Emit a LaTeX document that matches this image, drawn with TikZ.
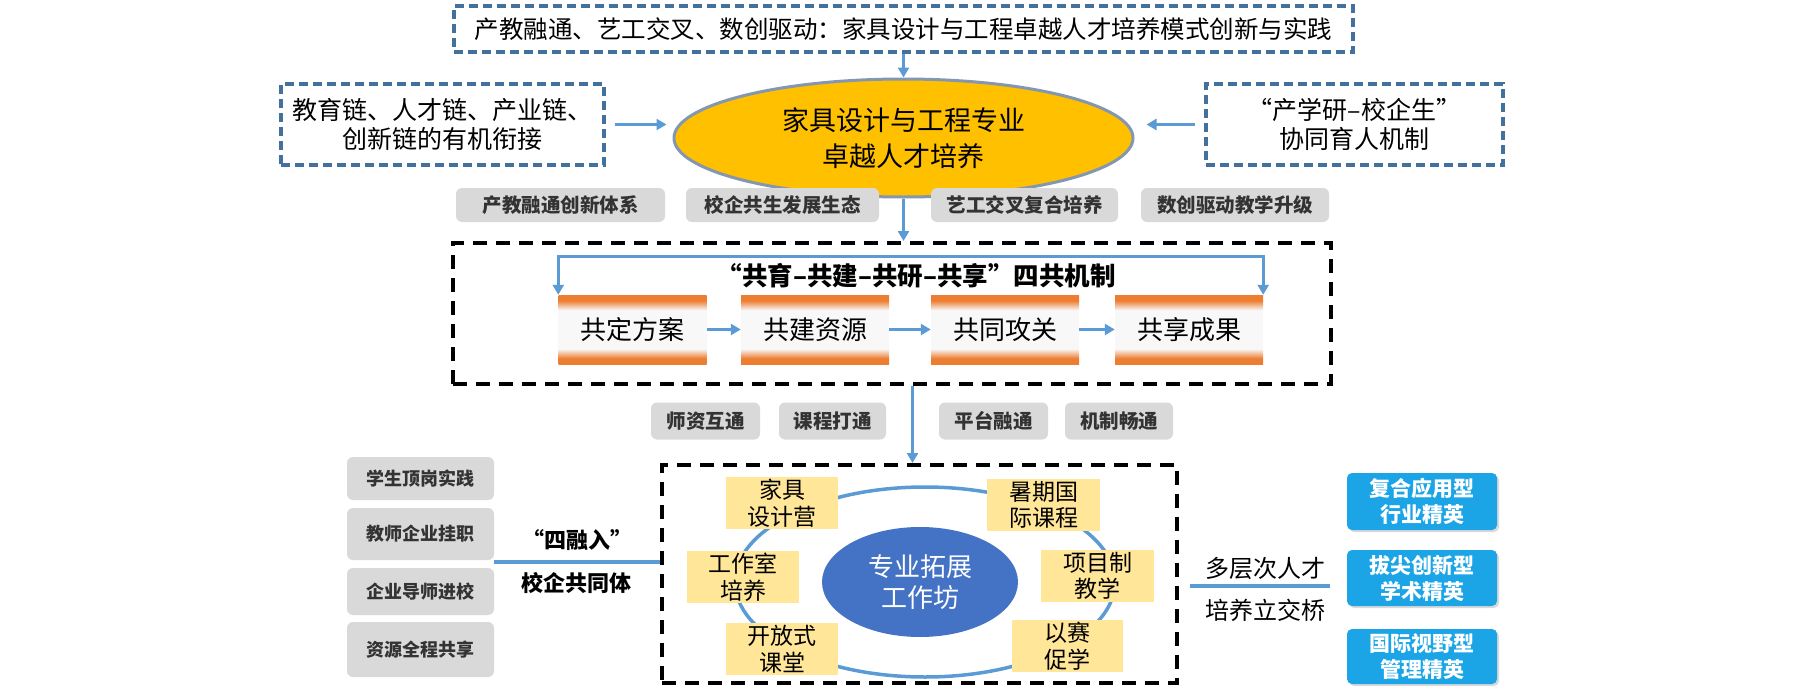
\documentclass[tikz,border=0pt]{standalone}
\usepackage{fontspec}
\setmainfont{Noto Sans CJK SC}
\usetikzlibrary{arrows.meta,shapes.geometric,shadows}
\definecolor{dashblue}{RGB}{65,113,156}
\definecolor{arrblue}{RGB}{91,155,213}
\definecolor{gold}{RGB}{255,192,0}
\definecolor{ellborder}{RGB}{132,151,176}
\definecolor{boxgray}{RGB}{217,217,217}
\definecolor{txtgray}{RGB}{51,51,51}
\definecolor{orbar}{RGB}{237,125,49}
\definecolor{midwhite}{RGB}{248,248,248}
\definecolor{ylw}{RGB}{255,230,153}
\definecolor{ellblue}{RGB}{68,114,196}
\definecolor{cyanbox}{RGB}{28,165,230}
\pgfdeclareverticalshading{orangebar}{100bp}{color(0bp)=(orbar); color(29bp)=(orbar); color(36bp)=(midwhite); color(64bp)=(midwhite); color(71bp)=(orbar); color(100bp)=(orbar)}
\tikzset{
  >={Triangle[length=10pt,width=11pt]},
  bdash/.style={draw=dashblue, line width=3.2pt, dash pattern=on 9pt off 5pt, inner sep=0pt},
  kdash/.style={draw=black, line width=4pt, dash pattern=on 14pt off 9pt, inner sep=0pt},
  arr/.style={draw=arrblue, line width=3pt, ->},
  conn/.style={draw=arrblue, line width=3.5pt},
  graybox/.style={fill=boxgray, rounded corners=6pt, text=txtgray, inner sep=0pt,
    font=\bfseries\fontsize{19.5}{23}\selectfont},
  lgray/.style={graybox, minimum width=147pt, font=\bfseries\fontsize{18}{22}\selectfont},
  obar/.style={shading=orangebar, minimum width=148pt, minimum height=69pt, inner sep=0pt,
    font=\fontsize{26}{30}\selectfont},
  ybox/.style={fill=ylw, minimum width=112pt, minimum height=52pt, inner sep=0pt, align=center,
    font=\fontsize{23}{26.5}\selectfont},
  cbox/.style={fill=cyanbox, rounded corners=5pt, minimum width=150pt, text=white, inner sep=0pt,
    align=center, font=\bfseries\fontsize{21}{26}\selectfont,
    drop shadow={shadow xshift=2pt, shadow yshift=-2pt, opacity=0.3}},
  lbl/.style={inner sep=0pt, font=\bfseries\fontsize{22}{26}\selectfont},
  rlbl/.style={inner sep=0pt, font=\fontsize{24}{28}\selectfont},
}
\begin{document}
\begin{tikzpicture}[x=1pt,y=-1pt]
\useasboundingbox (0,0) rectangle (1813,688);
% top
\node[bdash, minimum width=899pt, minimum height=46pt, font=\fontsize{24.5}{28}\selectfont] (title) at (903.5,29)
  {产教融通、艺工交叉、数创驱动：家具设计与工程卓越人才培养模式创新与实践};
\node[ellipse, fill=gold, draw=ellborder, line width=3pt, minimum width=459pt, minimum height=118pt,
  inner sep=0pt, align=center, font=\fontsize{27}{36}\selectfont] (ell) at (903.5,138)
  {家具设计与工程专业\\卓越人才培养};
\node[bdash, minimum width=323pt, minimum height=81pt, align=center, font=\fontsize{25}{29}\selectfont] (lbox) at (442.5,124.5)
  {教育链、人才链、产业链、\\创新链的有机衔接};
\node[bdash, minimum width=297pt, minimum height=81pt, align=center, font=\fontsize{25}{29}\selectfont] (rbox) at (1354.5,124.5)
  {“产学研–校企生”\\协同育人机制};
\draw[arr] (title) -- (ell);
\draw[arr, shorten <=9pt, shorten >=6pt] (lbox.east) -- (lbox.east -| ell.west);
\draw[arr, shorten <=9pt, shorten >=12pt] (rbox.west) -- (rbox.west -| ell.east);
% gray row 1
\node[graybox, minimum width=209pt, minimum height=34pt] (g1) at (560.5,205) {产教融通创新体系};
\node[graybox, minimum width=193pt, minimum height=34pt] (g2) at (782.5,205) {校企共生发展生态};
\node[graybox, minimum width=187pt, minimum height=34pt] (g3) at (1024.5,205) {艺工交叉复合培养};
\node[graybox, minimum width=188pt, minimum height=34pt] (g4) at (1235,205) {数创驱动教学升级};
% box 1
\node[kdash, minimum width=878pt, minimum height=141pt] (box1) at (892,313.5) {};
\draw[arr] (ell.south) -- (ell.south |- box1.north);
\node[obar] (s1) at (632.5,329.5) {共定方案};
\node[obar] (s2) at (815,329.5) {共建资源};
\node[obar] (s3) at (1005,329.5) {共同攻关};
\node[obar] (s4) at (1189,329.5) {共享成果};
\draw[arr] (s1) -- (s2);
\draw[arr] (s2) -- (s3);
\draw[arr] (s3) -- (s4);
\draw[arr, <->] (s1.north west) -- ++(0,-38) -| (s4.north east);
\node[inner sep=0pt, font=\bfseries\fontsize{25.5}{29}\selectfont] (hdr) at (916,276) {“共育–共建–共研–共享”四共机制};
% gray row 2
\node[graybox, minimum width=109pt, minimum height=37pt] (h1) at (705.5,421) {师资互通};
\node[graybox, minimum width=107pt, minimum height=37pt] (h2) at (832.5,421) {课程打通};
\node[graybox, minimum width=109pt, minimum height=37pt] (h3) at (993.5,421) {平台融通};
\node[graybox, minimum width=108pt, minimum height=37pt] (h4) at (1119,421) {机制畅通};
% box 2
\node[kdash, minimum width=515pt, minimum height=218pt] (box2) at (919.5,574) {};
\draw[arr] ([xshift=-7pt]box2.north |- box1.south) -- ([xshift=-7pt]box2.north);
\node[ellipse, draw=arrblue, line width=3.5pt, minimum width=380pt, minimum height=190pt, inner sep=0pt] (ring) at (925,582) {};
\node[ybox] (y1) at (782,503) {家具\\设计营};
\node[ybox] (y2) at (743,577) {工作室\\培养};
\node[ybox] (y3) at (782,649) {开放式\\课堂};
\node[ybox, minimum width=113pt] (y4) at (1043.5,505) {暑期国\\际课程};
\node[ybox, minimum width=113pt] (y5) at (1097.5,576) {项目制\\教学};
\node[ybox, minimum width=111pt] (y6) at (1067.5,646) {以赛\\促学};
\node[ellipse, fill=ellblue, minimum width=196pt, minimum height=110pt, inner sep=0pt, text=white,
  align=center, font=\fontsize{26}{31}\selectfont] (ws) at (920,582) {专业拓展\\工作坊};
% left side
\node[lgray, minimum height=43pt] (t1) at (420.5,478.5) {学生顶岗实践};
\node[lgray, minimum height=52pt] (t2) at (420.5,534) {教师企业挂职};
\node[lgray, minimum height=47pt] (t3) at (420.5,591.5) {企业导师进校};
\node[lgray, minimum height=55pt] (t4) at (420.5,649.5) {资源全程共享};
\coordinate (lj) at (494,562);
\draw[conn] (lj) -- (lj -| box2.west);
\node[lbl] (l1) at (577,540) {“四融入”};
\node[lbl] (l2) at (576,583) {校企共同体};
% right side
\coordinate (rj1) at (1190,586);
\coordinate (rj2) at (1330,586);
\draw[conn] (rj1) -- (rj2);
\node[rlbl] (r1) at (1265,568) {多层次人才};
\node[rlbl] (r2) at (1265,610) {培养立交桥};
\node[cbox, minimum height=57pt] (c1) at (1422,501.5) {复合应用型\\行业精英};
\node[cbox, minimum height=56pt] (c2) at (1422,578) {拔尖创新型\\学术精英};
\node[cbox, minimum height=55pt] (c3) at (1422,656.5) {国际视野型\\管理精英};
\end{tikzpicture}
\end{document}
